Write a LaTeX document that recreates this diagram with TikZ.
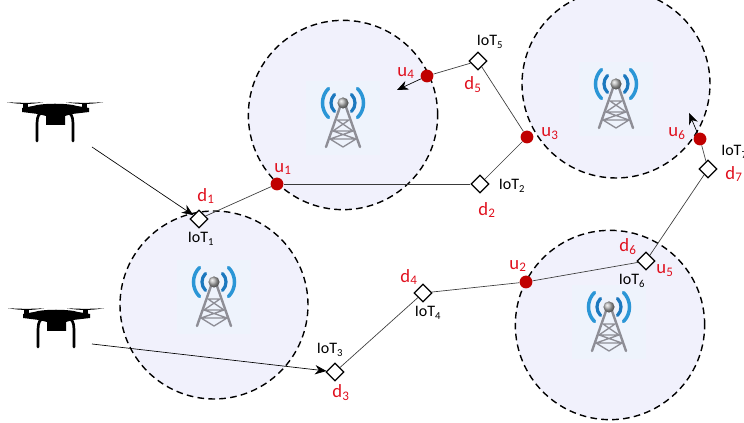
\documentclass[tikz,border=0pt]{standalone}
\usepackage{fontspec}
\setmainfont{Carlito}
\usetikzlibrary{shapes.geometric,arrows.meta}
\definecolor{cellfill}{HTML}{F1F1FC}
\definecolor{patchfill}{HTML}{EEF3FC}
\definecolor{redtext}{HTML}{E0101E}
\definecolor{reddot}{HTML}{C00000}
\definecolor{wave}{HTML}{2B96D6}
\definecolor{wavedark}{HTML}{1C78BE}
\definecolor{towergray}{HTML}{8E8E96}
\definecolor{linegray}{HTML}{3A3A3A}
\tikzset{
  x=0.75pt,y=-0.75pt,
  cell/.style={draw=black,fill=cellfill,line width=1.05pt,dash pattern=on 5pt off 3.2pt},
  iot/.style={diamond,draw=black,fill=white,line width=0.85pt,inner sep=0pt,minimum width=13.5pt,minimum height=13.5pt},
  uav/.style={circle,fill=reddot,inner sep=0pt,minimum size=9.6pt},
  link/.style={draw=linegray,line width=0.5pt},
  tip/.style={-{Stealth[length=8.5pt,width=7pt]},draw=black,line width=0.5pt},
  redlab/.style={text=redtext,font=\fontsize{14}{14}\selectfont,inner sep=0pt},
  blacklab/.style={text=black,font=\fontsize{12}{12}\selectfont,inner sep=0pt},
  tower/.pic={
    \fill[patchfill] (-37,-37) rectangle (37,37);
    \begin{scope}[line cap=round]
      \draw[wave,line width=2.6pt] (-14.5,-29.5) arc[start angle=135,end angle=225,radius=15.4pt];
      \draw[wavedark,line width=2.4pt] (-8.5,-23.5) arc[start angle=135,end angle=225,radius=9pt];
      \draw[wave,line width=2.6pt] (14.5,-29.5) arc[start angle=45,end angle=-45,radius=15.4pt];
      \draw[wavedark,line width=2.4pt] (8.5,-23.5) arc[start angle=45,end angle=-45,radius=9pt];
      \draw[towergray,line width=1.8pt] (-3,-11) -- (-17,29) (3,-11) -- (17,29);
      \draw[towergray,line width=1pt] (-6,2) -- (6,2) (-10,13) -- (10,13) (-13,21) -- (13,21)
        (-6,2) -- (10,13) (6,2) -- (-10,13) (-10,13) -- (13,21) (10,13) -- (-13,21)
        (-13,21) -- (0,29) (13,21) -- (0,29);
    \end{scope}
    \shade[ball color=gray!60] (0,-15) circle[radius=4.2pt];
  },
  drone/.pic={
    \fill[black] (7,102.2) .. controls (20,103) and (32,103) .. (43,102.2) .. controls (32,104.5) and (20,104.5) .. (7,102.2) -- cycle;
    \fill[black] (66,102.2) .. controls (78,103) and (90,103) .. (103,102.2) .. controls (90,104.5) and (78,104.5) .. (66,102.2) -- cycle;
    \fill[black] (23,103) rectangle (28,110);
    \fill[black] (82,103) rectangle (87,110);
    \fill[black] (22,108) -- (33,106) .. controls (42,103) and (68,103) .. (77,106) -- (89,108) -- (89,112) -- (72,114)
      -- (65,116) -- (65,125) -- (46,125) -- (46,116) -- (38,114) -- (22,112) -- cycle;
    \draw[black,line width=2pt,line cap=round] (41,113) .. controls (37,115) and (37,120) .. (37,128) -- (37,141);
    \draw[black,line width=2pt,line cap=round] (69,113) .. controls (73,115) and (73,120) .. (73,128) -- (73,141);
  },
}
\begin{document}
\begin{tikzpicture}
\useasboundingbox (0,0) rectangle (744,423);
\begin{scope}
\clip (0,0) rectangle (744,423);
% coverage cells
\draw[cell] (214,305) circle[radius=70.5pt];
\draw[cell] (343,115) circle[radius=71pt];
\draw[cell] (616,84) circle[radius=70.5pt];
\draw[cell] (610,325) circle[radius=71pt];
% towers
\pic at (214,297) {tower};
\pic at (343,118) {tower};
\pic at (616,99) {tower};
\pic at (609,322) {tower};
% drones
\pic at (0,0) {drone};
\pic at (1,206) {drone};
% nodes
\coordinate (s1) at (92,147);
\coordinate (s2) at (92,344);
\coordinate (e4) at (397,90);
\coordinate (e6) at (689,113);
\node[iot] (i1) at (199,219) {};
\node[iot] (i2) at (480,184) {};
\node[iot] (i3) at (335,372) {};
\node[iot] (i4) at (423,293) {};
\node[iot] (i5) at (478,61) {};
\node[iot] (i6) at (646,261) {};
\node[iot] (i7) at (708,169) {};
\node[uav] (u1) at (277,184) {};
\node[uav] (u2) at (526,282) {};
\node[uav] (u3) at (527,137) {};
\node[uav] (u4) at (427,76) {};
\node[uav] (u6) at (700,139) {};
% connectors
\draw[tip] (s1) -- (i1);
\draw[tip] (s2) -- (i3);
\draw[link] (i1) -- (u1);
\draw[link] (u1) -- (i2);
\draw[link] (i2) -- (u3);
\draw[link] (u3) -- (i5);
\draw[link] (i5) -- (u4);
\draw[tip] (u4) -- (e4);
\draw[link] (i3) -- (i4);
\draw[link] (i4) -- (u2);
\draw[link] (u2) -- (i6);
\draw[link] (i6) -- (i7);
\draw[link] (i7) -- (u6);
\draw[tip] (u6) -- (e6);
% labels
\node[redlab] (ld1) at (206,196) {d\textsubscript{1}};
\node[redlab] (ld2) at (487,210) {d\textsubscript{2}};
\node[redlab] (ld3) at (341,393) {d\textsubscript{3}};
\node[redlab] (ld4) at (409,277) {d\textsubscript{4}};
\node[redlab] (ld5) at (473,85) {d\textsubscript{5}};
\node[redlab] (ld6) at (628,247) {d\textsubscript{6}};
\node[redlab] (ld7) at (734,174) {d\textsubscript{7}};
\node[redlab] (lu1) at (283,169) {u\textsubscript{1}};
\node[redlab] (lu2) at (518,266) {u\textsubscript{2}};
\node[redlab] (lu3) at (550,134) {u\textsubscript{3}};
\node[redlab] (lu4) at (406,73) {u\textsubscript{4}};
\node[redlab] (lu5) at (665,271) {u\textsubscript{5}};
\node[redlab] (lu6) at (677,134) {u\textsubscript{6}};
\node[blacklab] (t1) at (201,239) {IoT\textsubscript{1}};
\node[blacklab] (t2) at (512,186) {IoT\textsubscript{2}};
\node[blacklab] (t3) at (330,350) {IoT\textsubscript{3}};
\node[blacklab] (t4) at (428,313) {IoT\textsubscript{4}};
\node[blacklab] (t5) at (490,42) {IoT\textsubscript{5}};
\node[blacklab] (t6) at (632,281) {IoT\textsubscript{6}};
\node[blacklab,anchor=west] (t7) at (721,152) {IoT\textsubscript{7}};
\end{scope}
\end{tikzpicture}
\end{document}
